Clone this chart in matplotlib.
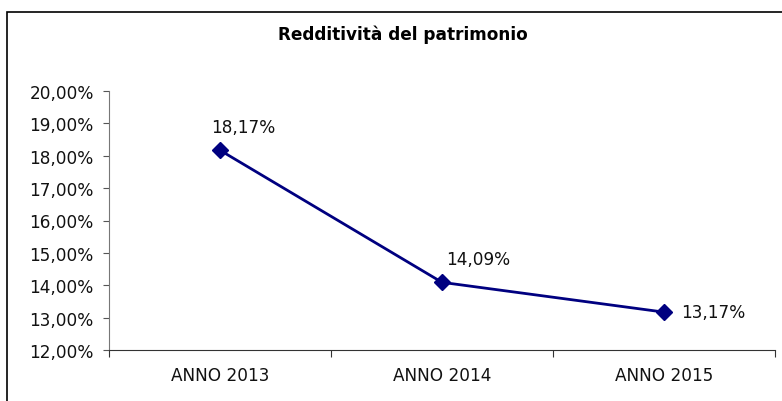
import matplotlib
matplotlib.use("Agg")
import matplotlib.pyplot as plt
from matplotlib.patches import Rectangle
from matplotlib.ticker import FixedLocator, FuncFormatter

plt.rcParams["font.family"] = ["DejaVu Sans"]

categories = ["ANNO 2013", "ANNO 2014", "ANNO 2015"]
values = [18.17, 14.09, 13.17]
labels = ["18,17%", "14,09%", "13,17%"]
yticks = [12, 13, 14, 15, 16, 17, 18, 19, 20]

W, H = 782, 402
FS = 12.2
fig = plt.figure(figsize=(W / 100, H / 100), dpi=100)
fig.patch.set_facecolor("white")

# outer chart border (extends beyond right/bottom edge)
fig.patches.append(Rectangle((6.5 / W, -0.1), 1.2, 1 - 12.5 / H + 0.1,
                             transform=fig.transFigure, fill=False,
                             edgecolor="black", linewidth=1.2))

ax = fig.add_axes([109 / W, 1 - 351 / H, (775 - 109) / W, (351 - 92) / H])
x = [i + 0.5 for i in range(len(categories))]
ax.plot(x, values, color="#000080", linewidth=2, marker="D", markersize=8.5,
        markerfacecolor="#000080", markeredgecolor="#000080", zorder=3)

ax.set_xlim(0, len(categories))
ax.set_ylim(12, 20)
ax.yaxis.set_major_locator(FixedLocator(yticks))
ax.yaxis.set_major_formatter(FuncFormatter(lambda v, p: f"{v:.2f}%".replace(".", ",")))
ax.xaxis.set_major_locator(FixedLocator(range(len(categories) + 1)))
ax.xaxis.set_major_formatter(FuncFormatter(lambda v, p: ""))
ax.xaxis.set_minor_locator(FixedLocator(x))
ax.set_xticklabels(categories, minor=True)
ax.tick_params(axis="x", which="minor", length=0, pad=11.5, labelsize=FS, labelcolor="#111111")
ax.tick_params(axis="x", which="major", length=5, direction="out", color="#333333")
ax.tick_params(axis="y", length=4, direction="out", labelsize=FS, pad=7,
               color="#555555", labelcolor="#111111")

for s in ["top", "right"]:
    ax.spines[s].set_visible(False)
ax.spines["left"].set_color("#777777")
ax.spines["bottom"].set_color("#333333")

offsets = [(17, 17), (26, 17), (12, 0)]
has = ["center", "center", "left"]
for xi, v, lab, off, ha in zip(x, values, labels, offsets, has):
    ax.annotate(lab, (xi, v), xytext=off, textcoords="offset points",
                ha=ha, va="center", fontsize=FS, color="#111111")

fig.text(403 / W, 1 - 35 / H, "Redditività del patrimonio", ha="center",
         va="center", fontsize=12.2, fontweight="bold", color="black")

fig.savefig("out.png", dpi=100)
